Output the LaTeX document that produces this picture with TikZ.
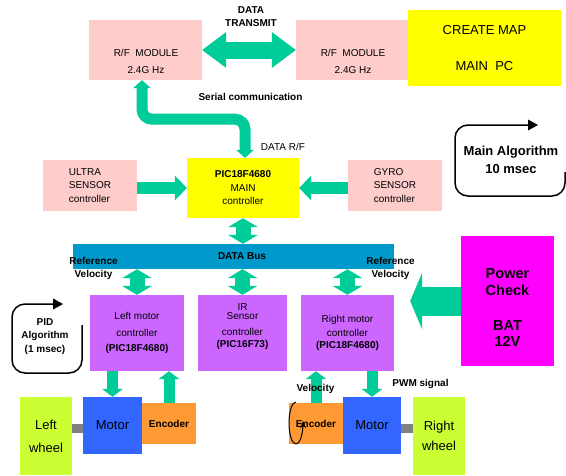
\documentclass[tikz,border=0pt]{standalone}
\usepackage{fontspec}
\setmainfont{Liberation Sans}
\usepackage{tikz}
\usepackage{xcolor}
\usetikzlibrary{positioning,arrows.meta}
\definecolor{rfpink}{RGB}{255,204,204}
\definecolor{mainyellow}{RGB}{255,255,0}
\definecolor{busblue}{RGB}{0,153,204}
\definecolor{ctrlpurple}{RGB}{204,102,255}
\definecolor{batmagenta}{RGB}{255,0,255}
\definecolor{wheellime}{RGB}{204,255,51}
\definecolor{motorblue}{RGB}{51,102,255}
\definecolor{encorange}{RGB}{255,153,51}
\definecolor{flowgreen}{RGB}{0,204,153}
\definecolor{shaftgray}{RGB}{128,128,128}

\begin{document}
\begin{tikzpicture}[x=1pt,y=-1pt]
\tikzstyle{every node}+=[inner sep=0pt]
\tikzstyle{blk}=[rectangle, align=center, font=\fontsize{10}{13.5}\selectfont]
\tikzstyle{lbl}=[align=center, font=\fontsize{10}{13}\selectfont\bfseries]
\tikzstyle{txarrow}=[draw=flowgreen, line width=17pt, {Triangle[length=24pt,width=36pt,line width=0pt]}-{Triangle[length=24pt,width=36pt,line width=0pt]}]
\tikzstyle{serialarrow}=[draw=flowgreen, line width=11pt, rounded corners=10pt, {Triangle[length=8pt,width=18pt,line width=0pt]}-{Triangle[length=8pt,width=18pt,line width=0pt]}]
\tikzstyle{sensorarrow}=[draw=flowgreen, line width=12pt, -{Triangle[length=12pt,width=25pt,line width=0pt]}]
\tikzstyle{busarrow}=[draw=flowgreen, line width=15pt, {Triangle[length=9pt,width=30pt,line width=0pt]}-{Triangle[length=9pt,width=30pt,line width=0pt]}]
\tikzstyle{motorarrow}=[draw=flowgreen, line width=11pt, -{Triangle[length=8pt,width=21pt,line width=0pt]}]
\tikzstyle{powerarrow}=[draw=flowgreen, line width=29pt, -{Triangle[length=12pt,width=57pt,line width=0pt]}]
\tikzstyle{loopline}=[draw=black, line width=1.5pt, rounded corners=13pt, -{Triangle[length=10pt,width=11pt,line width=0pt]}]
\tikzstyle{shaftline}=[draw=shaftgray, line width=9pt]
\useasboundingbox (0,0) rectangle (566,475);

\node[blk, fill=rfpink, minimum width=113pt, minimum height=60pt] (rfl) at (145.5,50) {};
\node[blk] (rfl-txt) at (146,61.5) {R/F\ \ MODULE\\[3.5pt]2.4G Hz};
\node[blk, fill=rfpink, minimum width=113pt, minimum height=60pt] (rfr) at (352.5,50) {};
\node[blk] (rfr-txt) at (353,61.5) {R/F\ \ MODULE\\[3.5pt]2.4G Hz};
\node[blk, fill=mainyellow, minimum width=153pt, minimum height=76pt, font=\fontsize{13}{16}\selectfont] (pc) at (484.5,48) {CREATE MAP\\[20pt]MAIN\ \ PC};
\node[blk, fill=mainyellow, minimum width=112pt, minimum height=60pt] (pic) at (243,188) {\textbf{PIC18F4680}\\MAIN\\controller};
\node[blk, fill=rfpink, minimum width=94pt, minimum height=51pt, align=left] (ultra) at (90,185.5) {ULTRA\\SENSOR\\controller};
\node[blk, fill=rfpink, minimum width=94pt, minimum height=51pt, align=left] (gyro) at (395,185.5) {GYRO\\SENSOR\\controller};
\node[blk, fill=busblue, minimum width=321pt, minimum height=25pt, font=\fontsize{10}{12}\selectfont\bfseries] (bus) at (233.5,256.5) {\hspace*{17pt}DATA Bus};
\node[blk, fill=ctrlpurple, minimum width=94pt, minimum height=76pt] (lmc) at (137,333) {Left motor\\[3.5pt]controller\\[1.5pt]\textbf{(PIC18F4680)}};
\node[blk, fill=ctrlpurple, minimum width=89pt, minimum height=76pt] (irc) at (242.5,333) {};
\node[blk, font=\fontsize{10}{13}\selectfont] (irc-txt) at (242.5,326.5) {IR\\[-4pt]Sensor\\[3pt]controller\\[-1pt]\textbf{(PIC16F73)}};
\node[blk, fill=ctrlpurple, minimum width=93pt, minimum height=76pt] (rmc) at (347.5,333) {Right motor\\[.5pt]controller\\[-1.5pt]\textbf{(PIC18F4680)}};
\node[blk, fill=batmagenta, minimum width=93pt, minimum height=130pt] (power) at (507.5,301) {};
\node[blk, font=\fontsize{14.5}{16.5}\selectfont\bfseries] (power-txt) at (507.5,308) {Power\\Check\\[18.5pt]BAT\\12V};
\node[blk, fill=wheellime, minimum width=52pt, minimum height=78pt, font=\fontsize{13}{23}\selectfont] (lwheel) at (46,436) {Left\\wheel};
\node[blk, fill=motorblue, minimum width=59pt, minimum height=57pt, font=\fontsize{13}{16}\selectfont] (lmotor) at (112.5,425.5) {Motor};
\node[blk, fill=encorange, minimum width=54pt, minimum height=41pt, font=\fontsize{10}{12}\selectfont\bfseries] (lenc) at (169,423.5) {Encoder};
\node[blk, fill=encorange, minimum width=54pt, minimum height=41pt, font=\fontsize{10}{12}\selectfont\bfseries] (renc) at (316,423.5) {Encoder};
\node[blk, fill=motorblue, minimum width=58pt, minimum height=57pt, font=\fontsize{13}{16}\selectfont] (rmotor) at (372,425.5) {Motor};
\node[blk, fill=wheellime, minimum width=52pt, minimum height=78pt, font=\fontsize{13}{20}\selectfont] (rwheel) at (439,436) {Right\\wheel};

\draw[txarrow] (rfl) -- (rfr);
\draw[serialarrow] ([xshift=-3.5pt]rfl.south) -- ++(0,39) -| ([xshift=2pt]pic.north);
\draw[sensorarrow] (ultra.east |- pic.west) -- (pic.west);
\draw[sensorarrow] (gyro.west |- pic.east) -- (pic.east);
\draw[busarrow] (pic.south) -- (pic.south |- bus.north);
\draw[busarrow] (lmc.north |- bus.south) -- (lmc.north);
\draw[busarrow] (irc.north |- bus.south) -- (irc.north);
\draw[busarrow] (rmc.north |- bus.south) -- (rmc.north);
\draw[powerarrow, shorten >=16pt] (power.west) -- (power.west -| rmc.east);
\draw[motorarrow] (lmotor.north |- lmc.south) -- (lmotor.north);
\draw[motorarrow] (lenc.north) -- (lenc.north |- lmc.south);
\draw[motorarrow] (renc.north) -- (renc.north |- rmc.south);
\draw[motorarrow] (rmotor.north |- rmc.south) -- (rmotor.north);
\draw[shaftline] ([yshift=-3pt]lmotor.west) -- ([yshift=-3pt]lmotor.west -| lwheel.east);
\draw[shaftline] ([yshift=-3pt]rmotor.east) -- ([yshift=-3pt]rmotor.east -| rwheel.west);

\node[lbl] (txlbl) at (251,16.5) {DATA\\TRANSMIT};
\node[lbl] (seriallbl) at (250.5,96.5) {Serial communication};
\node[blk] (rflbl) at (283,147) {DATA R/F};
\node[lbl] (refl) at (93.5,268.5) {Reference\\Velocity};
\node[lbl] (refr) at (390.5,268.5) {Reference\\Velocity};
\node[lbl] (vellbl) at (315.5,389) {Velocity};
\node[lbl] (pwmlbl) at (420.5,384) {PWM signal};
\node[lbl, font=\fontsize{13}{18}\selectfont\bfseries] (mainlbl) at (511,160) {Main Algorithm\\10 msec};
\node[lbl, font=\fontsize{10}{13.5}\selectfont\bfseries] (pidlbl) at (45,336.5) {PID\\Algorithm\\(1 msec)};

\draw[loopline] (565,172) -- (565,196) -- (455,196) -- (455,125) -- (538,125);
\draw[loopline] (82,325) -- (82,373) -- (12,373) -- (12,304) -- (63,304);
\draw[line width=1pt, -{Stealth[length=7pt,width=6pt]}] (296,402) arc[start angle=270, end angle=-5, x radius=7, y radius=21];
\end{tikzpicture}
\end{document}
